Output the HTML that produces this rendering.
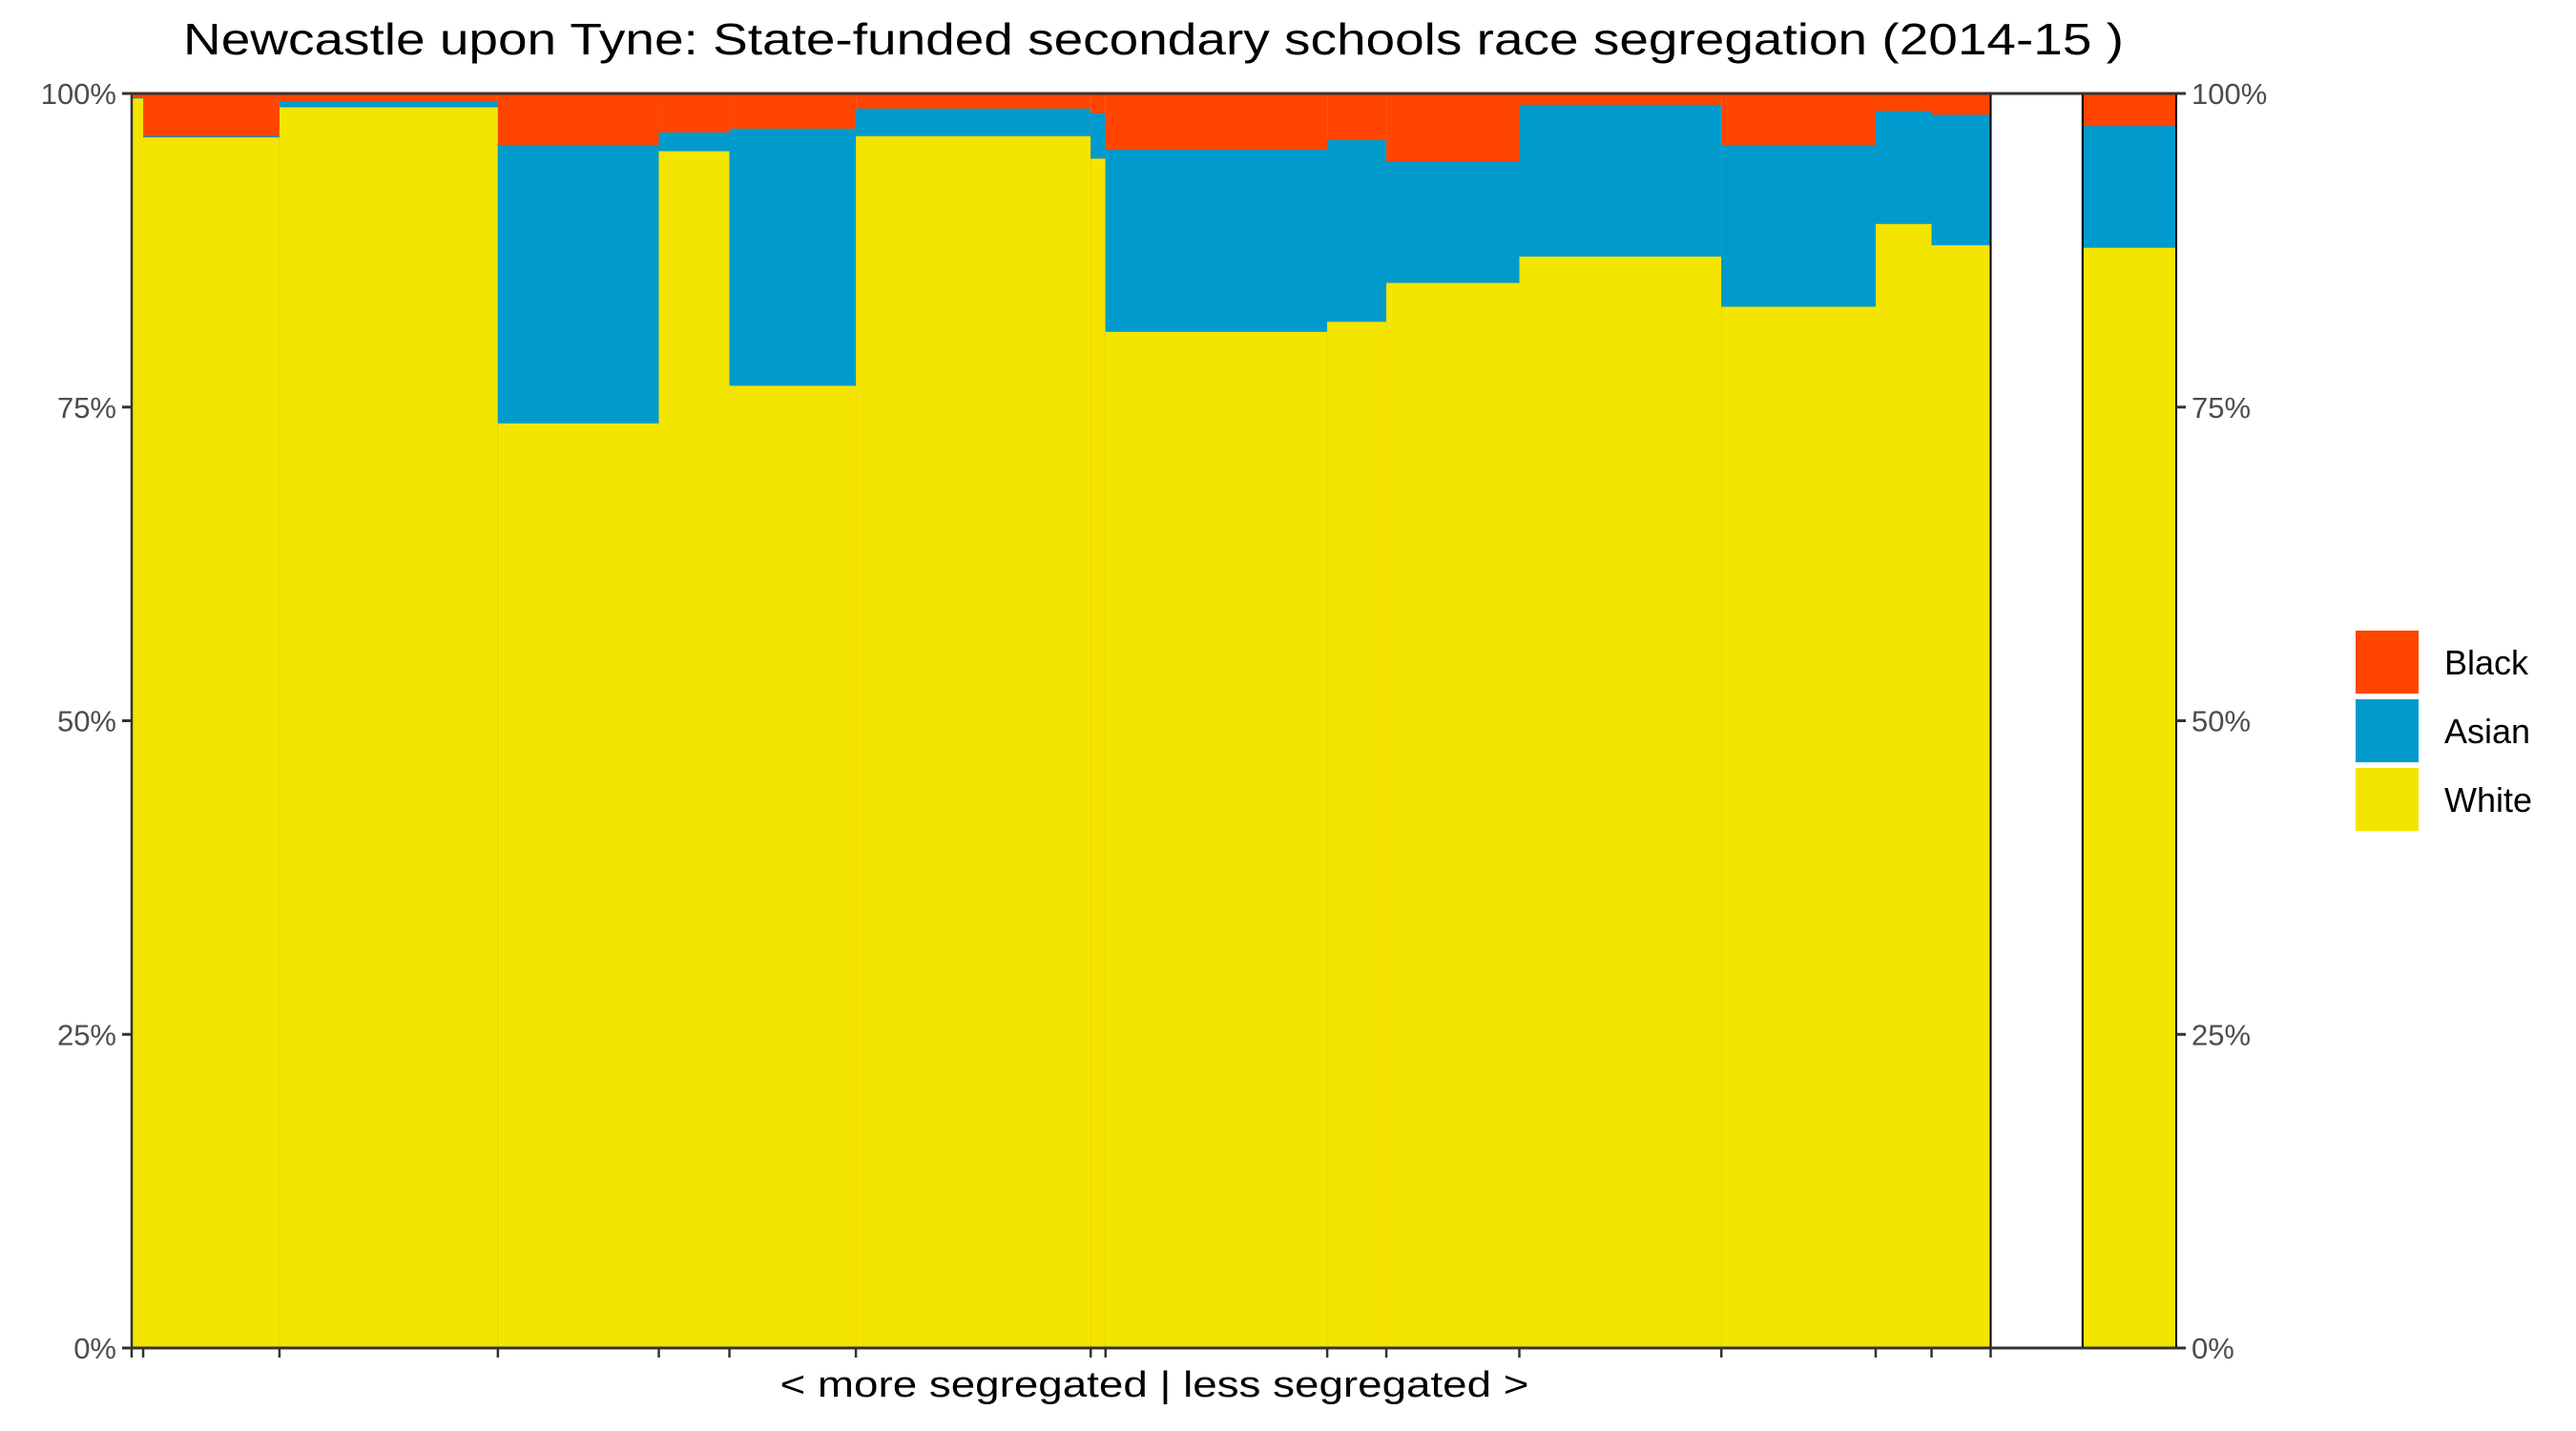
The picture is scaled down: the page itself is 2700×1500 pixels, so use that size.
<!DOCTYPE html>
<html><head><meta charset="utf-8"><title>Newcastle segregation</title>
<style>html,body{margin:0;padding:0;background:#fff;}svg{display:block;font-family:"Liberation Sans",Arial,sans-serif;}</style>
</head><body>
<svg id="chart" width="2700" height="1500" viewBox="0 0 2700 1500" xmlns="http://www.w3.org/2000/svg">
<rect width="2700" height="1500" fill="#fff"/>
<text x="1209" y="57" text-anchor="middle" font-size="46" fill="#000" textLength="2034" lengthAdjust="spacingAndGlyphs">Newcastle upon Tyne: State-funded secondary schools race segregation (2014-15 )</text>
<g id="bars"></g>
<g id="axes"></g>
<text x="1210" y="1464" text-anchor="middle" font-size="38" fill="#000" textLength="785" lengthAdjust="spacingAndGlyphs">&lt; more segregated | less segregated &gt;</text>
<g>
<rect x="2469" y="661" width="66" height="66" fill="#FF4500"/>
<rect x="2469" y="733" width="66" height="66" fill="#009BCC"/>
<rect x="2469" y="805" width="66" height="66" fill="#F3E500"/>
<text x="2562" y="707" font-size="36" fill="#000">Black</text>
<text x="2562" y="779" font-size="36" fill="#000">Asian</text>
<text x="2562" y="851" font-size="36" fill="#000">White</text>
</g>
</svg>
<script>
// school sizes (relative widths), white share %, asian share %
const schoolSizes = [7,83,133,98,43,77,143,9,135,36,81,123,94,34,36,56,57];
const whitePct =    [99.6,96.5,98.9,73.7,95.4,76.7,96.6,94.8,81.0,81.8,84.9,87.0,83.0,89.6,87.9,null,87.7];
const asianPct =    [0.1,0.1,0.5,22.2,1.5,20.5,2.2,3.6,14.5,14.5,9.7,12.1,12.9,9.0,10.4,null,9.7];
const yTicks = [0,25,50,75,100];
const yTickLabels = ["0%","25%","50%","75%","100%"];

const L=138, R=2281, T=98, B=1413;
const total = schoolSizes.reduce((a,b)=>a+b,0);
const xScale = v => L + (R-L)*v/total;
const yScale = p => B - (B-T)*p/100;
const NS="http://www.w3.org/2000/svg";
const barsG=document.getElementById('bars');
const axesG=document.getElementById('axes');
function mk(tag,attrs,parent){const e=document.createElementNS(NS,tag);for(const k in attrs)e.setAttribute(k,attrs[k]);parent.appendChild(e);return e;}

let cum=0;
const tickXs=[L];
schoolSizes.forEach((s,i)=>{
  const x0=xScale(cum), x1=xScale(cum+s); cum+=s;
  tickXs.push(x1);
  if(whitePct[i]===null){
    const r=mk('rect',{x:x0,y:T,width:x1-x0,height:B-T,fill:'#fff',stroke:'#000','stroke-width':2},barsG);
    
    
    return;
  }
  const w=whitePct[i], a=asianPct[i];
  const rb=mk('rect',{x:x0,y:T,width:x1-x0,height:B-T,fill:'#FF4500'},barsG);
  
  
  const ra=mk('rect',{x:x0,y:yScale(w+a),width:x1-x0,height:yScale(w)-yScale(w+a),fill:'#009BCC'},barsG);
  
  
  const rw=mk('rect',{x:x0,y:yScale(w),width:x1-x0,height:B-yScale(w),fill:'#F3E500'},barsG);
  
  
  if(i===schoolSizes.length-1){
    const o=mk('rect',{x:x0,y:T,width:x1-x0,height:B-T,fill:'none',stroke:'#000','stroke-width':2},barsG);
    
    
  }
});

const topLine=mk('line',{x1:L,x2:R,y1:T,y2:T,stroke:'#333','stroke-width':3},axesG);


const leftAxis=mk('line',{x1:L,x2:L,y1:T,y2:B,stroke:'#333','stroke-width':2.5},axesG);


const bottomAxis=mk('line',{x1:L-5,x2:R+5,y1:B,y2:B,stroke:'#333','stroke-width':3},axesG);



yTicks.forEach((t,i)=>{
  const y=yScale(t);
  const tl=mk('line',{x1:L-10,x2:L,y1:y,y2:y,stroke:'#333','stroke-width':3},axesG);
  
  
  const tr=mk('line',{x1:R,x2:R+10,y1:y,y2:y,stroke:'#333','stroke-width':3},axesG);
  
  
  const lt=mk('text',{x:L-16,y:y+11,'text-anchor':'end','font-size':31,fill:'#4d4d4d'},axesG);
  lt.textContent=yTickLabels[i];
  
  
  const rt=mk('text',{x:R+16,y:y+11,'text-anchor':'start','font-size':31,fill:'#4d4d4d'},axesG);
  rt.textContent=yTickLabels[i];
  
  
});
tickXs.slice(0,tickXs.length-2).forEach(x=>{
  const t=mk('line',{x1:x,x2:x,y1:B,y2:B+10,stroke:'#333','stroke-width':2.5},axesG);
  
  
});
</script>
</body></html>
